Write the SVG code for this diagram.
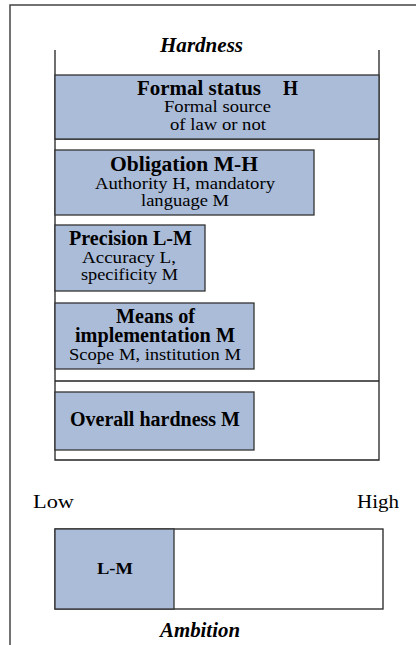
<svg xmlns="http://www.w3.org/2000/svg" width="416" height="645" viewBox="0 0 416 645">
<style>
.frame{fill:none;stroke:#444;stroke-width:1.5}
.axis{fill:none;stroke:#222;stroke-width:1.3}
.box{fill:#abbcd9;stroke:#333;stroke-width:1.3}
.wbox{fill:#fff;stroke:#222;stroke-width:1.3}
text{font-family:"Liberation Serif","Times New Roman",serif;fill:#000}
.b{font-weight:bold;font-size:20px}
.r{font-size:16.5px}
.t{font-weight:bold;font-style:italic;font-size:20px}
.s{font-weight:bold;font-size:17px}
.lh{font-size:19px}
</style>
<rect width="416" height="645" fill="#fff"/>
<g id="frame">
<path class="frame" d="M10,645 V5 H416"/>
</g>
<g id="axes">
<path class="axis" d="M55,50 V460 H379 V50"/>
<path class="axis" d="M55,139 H379"/>
<path class="axis" d="M55,381 H379"/>
</g>
<text class="t" x="160" y="52" textLength="83" lengthAdjust="spacingAndGlyphs">Hardness</text>
<g id="formal">
<rect class="box" x="55" y="75" width="324" height="64"/>
<text class="b" x="137" y="95" textLength="124" lengthAdjust="spacingAndGlyphs">Formal status</text>
<text class="b" x="283" y="95" textLength="15" lengthAdjust="spacingAndGlyphs">H</text>
<text class="r" x="164" y="112" textLength="107" lengthAdjust="spacingAndGlyphs">Formal source</text>
<text class="r" x="170" y="130" textLength="96" lengthAdjust="spacingAndGlyphs">of law or not</text>
</g>
<g id="obligation">
<rect class="box" x="55" y="150" width="259" height="65"/>
<text class="b" x="110" y="171" textLength="148" lengthAdjust="spacingAndGlyphs">Obligation M-H</text>
<text class="r" x="95" y="189" textLength="180" lengthAdjust="spacingAndGlyphs">Authority H, mandatory</text>
<text class="r" x="141" y="206" textLength="88" lengthAdjust="spacingAndGlyphs">language M</text>
</g>
<g id="precision">
<rect class="box" x="55" y="225" width="150" height="66"/>
<text class="b" x="69" y="245" textLength="123" lengthAdjust="spacingAndGlyphs">Precision L-M</text>
<text class="r" x="82" y="263" textLength="94" lengthAdjust="spacingAndGlyphs">Accuracy L,</text>
<text class="r" x="81" y="280" textLength="97" lengthAdjust="spacingAndGlyphs">specificity M</text>
</g>
<g id="means">
<rect class="box" x="55" y="303" width="199" height="66"/>
<text class="b" x="116" y="323" textLength="79" lengthAdjust="spacingAndGlyphs">Means of</text>
<text class="b" x="75" y="342" textLength="160" lengthAdjust="spacingAndGlyphs">implementation M</text>
<text class="r" x="69" y="360" textLength="172" lengthAdjust="spacingAndGlyphs">Scope M, institution M</text>
</g>
<g id="overall">
<rect class="box" x="55" y="392" width="199" height="58"/>
<text class="b" x="70" y="426" textLength="170" lengthAdjust="spacingAndGlyphs">Overall hardness M</text>
</g>
<text class="lh" x="33" y="508" textLength="41" lengthAdjust="spacingAndGlyphs">Low</text>
<text class="lh" x="357" y="508" textLength="42" lengthAdjust="spacingAndGlyphs">High</text>
<g id="ambition">
<rect class="wbox" x="55" y="529" width="328" height="80"/>
<rect class="box" x="55" y="529" width="119" height="80"/>
<text class="s" x="97" y="574" textLength="36" lengthAdjust="spacingAndGlyphs">L-M</text>
</g>
<text class="t" x="160" y="637" textLength="80" lengthAdjust="spacingAndGlyphs">Ambition</text>
</svg>
